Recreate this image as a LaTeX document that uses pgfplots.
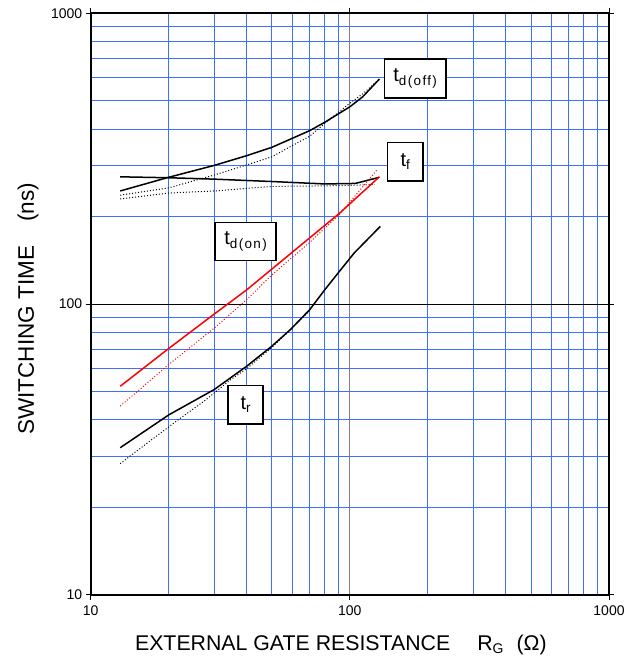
\documentclass[border=0pt]{standalone}
\usepackage{pgfplots}
\pgfplotsset{compat=1.18}
\usepackage{fontspec}
\setmainfont{Liberation Sans}
\definecolor{gridblue}{RGB}{60,110,255}
\newcommand{\lab}[2]{{\fontsize{20}{22}\selectfont #1}{\fontsize{13.5}{14}\selectfont\addfontfeature{LetterSpace=10}\raisebox{-3.5pt}{#2}}}
\begin{document}
\begin{tikzpicture}[x=1pt,y=1pt]
\useasboundingbox (-90.7,-66) rectangle (547.3,595);
\begin{axis}[
  at={(0,0)}, anchor=south west,
  scale only axis, width=518.3pt, height=581.7pt,
  xmode=log, ymode=log,
  xmin=10, xmax=1000, ymin=10, ymax=1000,
  xtick={10,100,1000}, ytick={10,100,1000},
  xticklabels={10,100,1000}, yticklabels={10,100,1000},
  minor xtick={20,30,40,50,60,70,80,90,200,300,400,500,600,700,800,900},
  minor ytick={20,30,40,50,60,70,80,90,200,300,400,500,600,700,800,900},
  grid=both,
  minor grid style={gridblue, line width=0.8pt},
  major x grid style={gray, line width=1pt},
  major y grid style={black, line width=0.8pt},
  axis line style={black, line width=1.6pt},
  tick align=outside, major tick length=5pt, minor tick length=0pt,
  tick style={black, line width=1pt},
  /pgf/number format/assume math mode=true,
  ticklabel style={font=\fontsize{14}{16}\selectfont},
  xticklabel style={yshift=-2pt},
  xlabel={EXTERNAL GATE RESISTANCE\hspace{27pt}R\raisebox{-3pt}{\fontsize{14}{14}\selectfont G}\hspace{13pt}(Ω)},
  xlabel style={font=\fontsize{21.3}{24}\selectfont, at={(axis description cs:0.4827,-0.0946)}, anchor=base, inner sep=0pt},
  ylabel={SWITCHING TIME\hspace{24pt}(ns)},
  ylabel style={font=\fontsize{22.5}{24}\selectfont, at={(axis description cs:-0.1094,0.492)}, anchor=base, inner sep=0pt, rotate=0},
  clip=false,
]
% t_d(off)
\addplot[black, line width=1.5pt] coordinates {(13,245) (20,273) (30,300) (40,324) (50,346) (70,395) (80,422) (100,477) (112,516) (130,594)};
\addplot[black, dotted, line width=1pt] coordinates {(13,237) (20,251) (30,278) (40,301) (50,321) (70,378) (80,418) (100,491) (112,528) (130,594)};
% t_f
\addplot[black, line width=1.5pt] coordinates {(13,274) (20,272) (30,269) (50,264) (80,259) (105,260) (130,273)};
\addplot[black, dotted, line width=1pt] coordinates {(13,230) (20,241) (30,245) (50,254) (80,255) (100,256) (125,258)};
% t_d(on)
\addplot[red, line width=1.5pt] coordinates {(13,52.2) (20,70.4) (30,92.5) (40,112) (50,132) (70,169) (91,205) (130,274)};
\addplot[red, dotted, line width=1pt] coordinates {(13,44.6) (20,62) (30,82.8) (40,103.6) (50,126) (70,163) (91,203) (127,289)};
% t_r
\addplot[black, line width=1.5pt] coordinates {(13,32.1) (20,41.6) (30,50.9) (40,61.2) (50,71.7) (59,81.8) (70,95.7) (80,112) (92,131) (104,150) (131,185)};
\addplot[black, dotted, line width=1pt] coordinates {(13,28.3) (16.9,33.8) (21.9,40.2) (27.4,46.4) (34.5,54.8) (40,60) (50,71) (59,81.8) (70,95)};
% labels
\node[draw, fill=white, line width=1.5pt, minimum width=61.4pt, minimum height=38.7pt, inner sep=0pt] at (axis cs:178.7,597) {\lab{t}{d(off)}};
\node[draw, fill=white, line width=1.5pt, minimum width=35.4pt, minimum height=38.7pt, inner sep=0pt] at (axis cs:163.6,309) {\lab{t}{f}};
\node[draw, fill=white, line width=1.5pt, minimum width=60.7pt, minimum height=38pt, inner sep=0pt] at (axis cs:39.6,164) {\lab{t}{d(on)}};
\node[draw, fill=white, line width=1.5pt, minimum width=34.7pt, minimum height=38.3pt, inner sep=0pt] at (axis cs:39.6,45.1) {\lab{t}{r}};
\end{axis}
\end{tikzpicture}
\end{document}
